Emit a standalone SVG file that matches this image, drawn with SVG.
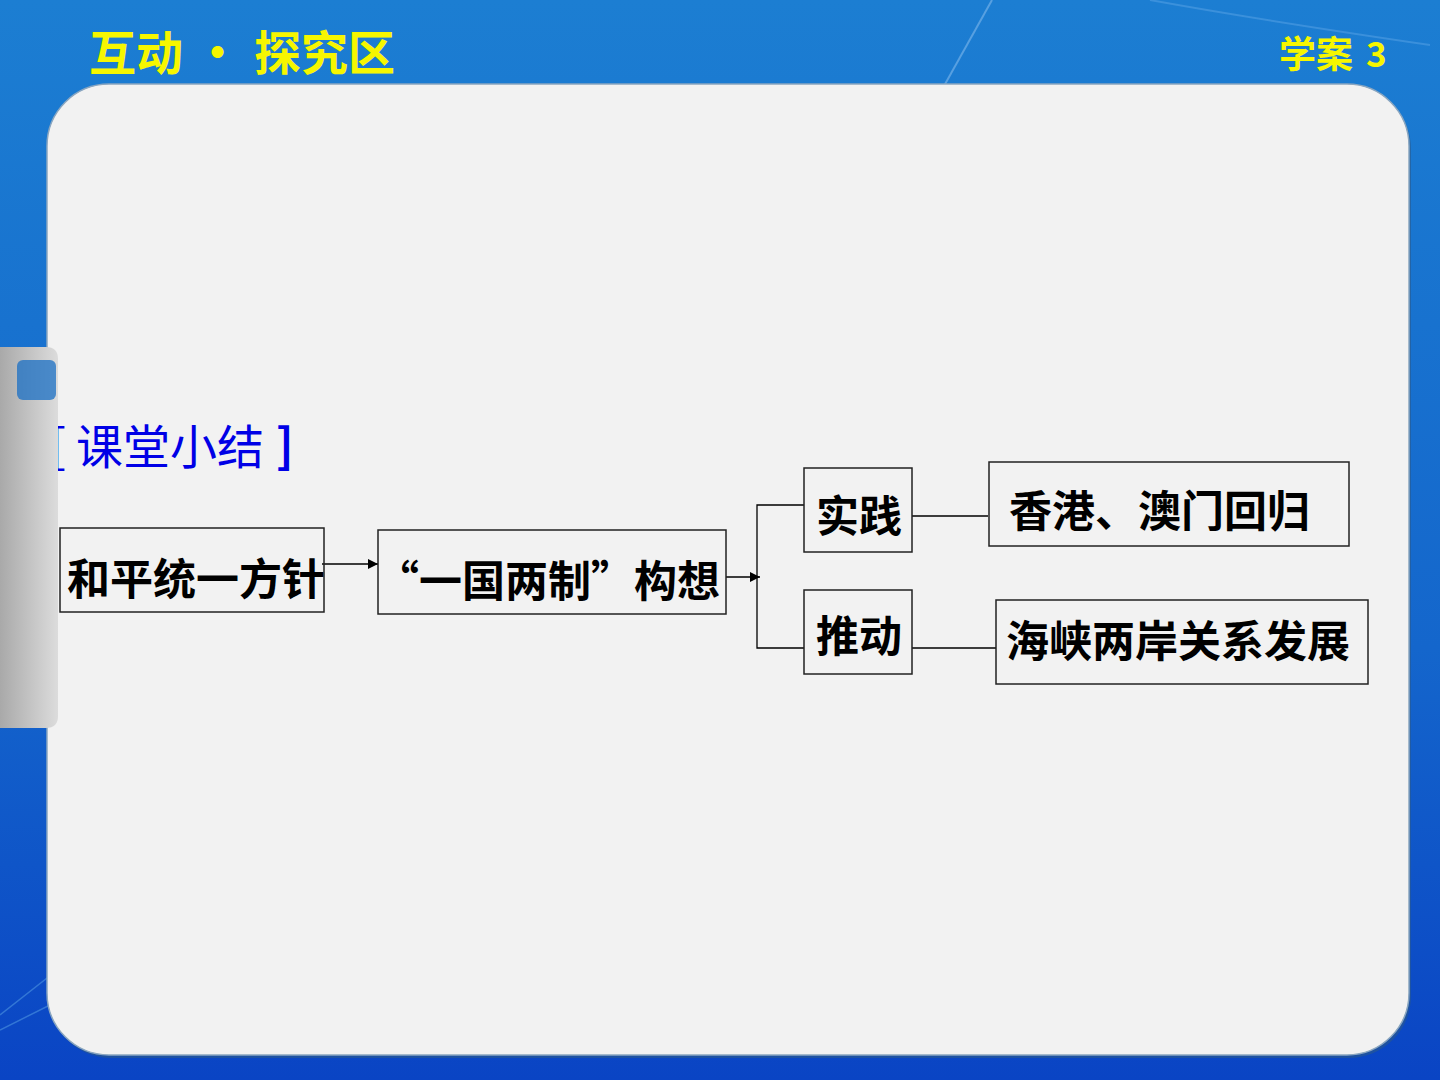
<svg xmlns="http://www.w3.org/2000/svg" width="1440" height="1080" viewBox="0 0 1440 1080">
<defs>
<linearGradient id="bg" x1="0" y1="0" x2="0" y2="1">
<stop offset="0" stop-color="#1c7ed2"/>
<stop offset="0.6" stop-color="#1466cc"/>
<stop offset="1" stop-color="#0a44c4"/>
</linearGradient>
<linearGradient id="tab" x1="0" y1="0" x2="1" y2="0">
<stop offset="0" stop-color="#a9a9a9"/>
<stop offset="1" stop-color="#dcdcdc"/>
</linearGradient>
<marker id="arr" viewBox="0 0 10 10" refX="10" refY="5" markerWidth="10" markerHeight="10" markerUnits="userSpaceOnUse" orient="auto">
<path d="M0,0 L10,5 L0,10 z" fill="#000"/>
</marker>
<style>
.box{fill:none;stroke:#222;stroke-width:1.5}
.t{font-family:"Noto Sans CJK SC","Liberation Serif",sans-serif;font-weight:bold;font-size:43px;fill:#000}
.conn{fill:none;stroke:#000;stroke-width:1.3}
.head{font-family:"Noto Sans CJK SC","Liberation Sans",sans-serif;font-weight:bold;fill:#f6f600}
.blue{font-family:"Noto Sans CJK SC","Liberation Sans",sans-serif;font-size:47px;fill:#0000e6}
</style>
</defs>
<rect x="0" y="0" width="1440" height="1080" fill="url(#bg)"/>
<path d="M992,0 L944,86" stroke="#7fb8ec" stroke-width="2" opacity="0.6"/>
<path d="M1150,0 Q1260,20 1430,45" stroke="#5aa3e6" stroke-width="2" opacity="0.5" fill="none"/>
<path d="M0,1015 L70,960 M0,1030 L60,1000" stroke="#5aa3e6" stroke-width="1.5" opacity="0.5"/>
<rect x="49" y="87" width="1362" height="971" rx="62" ry="62" fill="#2b5a8a" opacity="0.6"/>
<rect x="47" y="84" width="1362" height="971" rx="62" ry="62" fill="#f2f2f2" stroke="#8aa6c0" stroke-width="1.5"/>
<g id="header">
<text class="head" x="89" y="70" font-size="47">互动</text>
<text class="head" x="194" y="70" font-size="47">·</text>
<text class="head" x="254" y="70" font-size="47">探究区</text>
<text class="head" x="1279" y="68" font-size="37">学案</text>
<text class="head" x="1366" y="67" font-size="35" font-family="Liberation Sans,sans-serif">3</text>
</g>
<g id="title">
<text class="blue" x="50" y="463">[</text>
<text class="blue" x="76" y="464">课堂小结</text>
<text class="blue" x="276" y="463" font-weight="bold">]</text>
</g>
<g id="sidetab">
<path d="M0,347 L46,347 Q58,347 58,359 L58,716 Q58,728 46,728 L0,728 z" fill="url(#tab)"/>
<rect x="17" y="360" width="39" height="40" rx="6" fill="#1a6fc4" opacity="0.75"/>
</g>
<g id="connectors">
<line class="conn" x1="322" y1="564" x2="378" y2="564" marker-end="url(#arr)"/>
<line class="conn" x1="726" y1="577" x2="760" y2="577" marker-end="url(#arr)"/>
<polyline class="conn" points="804,505 757,505 757,648 804,648"/>
<line class="conn" x1="912" y1="516" x2="988" y2="516"/>
<line class="conn" x1="912" y1="648" x2="996" y2="648"/>
</g>
<g id="n1"><rect class="box" x="60" y="528" width="264" height="84"/><text class="t" x="67" y="595">和平统一方针</text></g>
<g id="n2"><rect class="box" x="378" y="530" width="348" height="84"/><text class="t" x="376" y="597" font-size="42" textLength="344" lengthAdjust="spacingAndGlyphs">“一国两制”构想</text></g>
<g id="n3"><rect class="box" x="804" y="468" width="108" height="84"/><text class="t" x="816" y="532">实践</text></g>
<g id="n4"><rect class="box" x="804" y="590" width="108" height="84"/><text class="t" x="816" y="652">推动</text></g>
<g id="n5"><rect class="box" x="989" y="462" width="360" height="84"/><text class="t" x="1009" y="527">香港、澳门回归</text></g>
<g id="n6"><rect class="box" x="996" y="600" width="372" height="84"/><text class="t" x="1006" y="657">海峡两岸关系发展</text></g>
</svg>
